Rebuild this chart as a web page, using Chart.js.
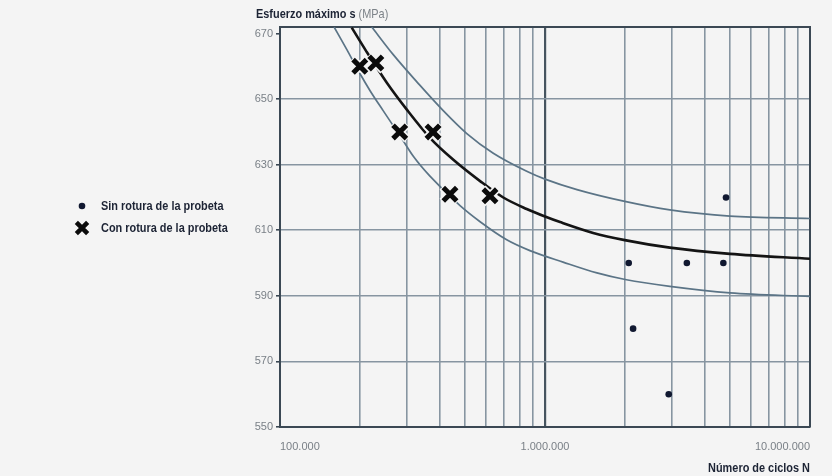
<!DOCTYPE html>
<html lang="es">
<head>
<meta charset="utf-8">
<title>Esfuerzo máximo vs número de ciclos</title>
<script src="https://cdn.jsdelivr.net/npm/chart.js@4.4.1/dist/chart.umd.min.js"></script>
<style>
  html, body { margin: 0; padding: 0; background: #f4f4f4; }
  #wrap { width: 832px; height: 476px; position: relative; }
</style>
</head>
<body>
<div id="wrap"><canvas id="snChart"></canvas></div>
<script>
// ensayos con rotura (cruces)
const brokenN = [200000, 230000, 283000, 378000, 438000, 620000];
const brokenS = [660, 661, 640, 640, 621, 620.5];
// ensayos sin rotura (puntos)
const runoutN = [2070000, 2150000, 2930000, 3430000, 4710000, 4820000];
const runoutS = [600, 580, 560, 600, 600, 620];

// curva media y bandas
const meanN = [186500, 212000, 253000, 301000, 368000, 451000, 569000, 696000, 853000, 1000000, 1140000, 1520000, 2000000, 2960000, 4990000, 10000000];
const meanS = [671.8, 664.5, 655, 646.8, 638.2, 631.5, 625, 620, 616.5, 614.2, 612.5, 609.2, 607, 604.7, 602.8, 601.3];
const upperN = [222000, 268000, 335000, 413000, 507000, 638000, 853000, 1000000, 1320000, 2000000, 2960000, 4990000, 10000000];
const upperS = [672, 663.5, 654.5, 646.5, 639.5, 633.5, 628, 625.6, 622.4, 618.8, 616.2, 614.3, 613.6];
const lowerN = [160000, 179000, 198000, 219000, 245000, 288000, 319000, 368000, 478000, 569000, 717000, 877000, 1170000, 1570000, 2030000, 2960000, 4990000, 10000000];
const lowerS = [672, 665, 658.5, 652.5, 646.5, 638, 632.5, 626.5, 617.5, 612.6, 607.1, 603.8, 600.3, 597, 594.9, 592.9, 590.9, 589.8];

// ejes
const xGridValues = [100000, 200000, 300000, 400000, 500000, 600000, 700000, 800000, 900000,
  1000000, 2000000, 3000000, 4000000, 5000000, 6000000, 7000000, 8000000, 9000000, 10000000];
const xLabelValues = [100000, 1000000, 10000000];
const xTickLabels = ['100.000', '1.000.000', '10.000.000'];
const yTickValues = [550, 570, 590, 610, 630, 650, 670];
const yTitle = ['Esfuerzo máximo s', '(MPa)'];
const xTitle = 'Número de ciclos N';
const legendLabels = ['Sin rotura de la probeta', 'Con rotura de la probeta'];

const FONT = "'Liberation Sans', Arial, sans-serif";
const SQUEEZE = 0.84;          // imita la tipografia estrecha del original
const BG = '#f4f4f4';
const GRID = '#8795a1';
const DARK = '#3b4854';
const INK = '#1c2334';
const TICK_INK = '#7a8087';

const pts = (xs, ys) => xs.map((x, i) => ({ x: x, y: ys[i] }));

const crossStyle = { pointStyle: 'crossRot', radius: 9.5, borderWidth: 5, color: '#0b0b0b' };
const dotStyle = { pointStyle: 'circle', radius: 3.3, color: '#101830' };

// marco superior/derecho del area de trazado
const framePlugin = {
  id: 'frame',
  beforeDatasetsDraw(chart) {
    const a = chart.chartArea, ctx = chart.ctx;
    ctx.save();
    ctx.strokeStyle = DARK;
    ctx.lineWidth = 2;
    ctx.beginPath();
    ctx.moveTo(a.left, a.top);
    ctx.lineTo(a.right, a.top);
    ctx.lineTo(a.right, a.bottom);
    ctx.stroke();
    ctx.restore();
  }
};

function narrowText(ctx, text, x, y, align) {
  ctx.save();
  ctx.translate(x, y);
  ctx.scale(SQUEEZE, 1);
  ctx.textAlign = align || 'left';
  ctx.fillText(text, 0, 0);
  const w = ctx.measureText(text).width * SQUEEZE;
  ctx.restore();
  return w;
}

// titulos y leyenda
const textPlugin = {
  id: 'texts',
  afterDraw(chart) {
    const ctx = chart.ctx, a = chart.chartArea;
    ctx.save();
    ctx.textBaseline = 'middle';
    ctx.font = 'bold 13px ' + FONT;
    ctx.fillStyle = INK;
    const w = narrowText(ctx, yTitle[0] + ' ', 256, 14);
    ctx.font = '13px ' + FONT;
    ctx.fillStyle = '#7d8389';
    narrowText(ctx, yTitle[1], 256 + w, 14);

    ctx.font = 'bold 13px ' + FONT;
    ctx.fillStyle = INK;
    narrowText(ctx, xTitle, a.right, 468, 'right');

    // leyenda
    ctx.fillStyle = dotStyle.color;
    Chart.helpers.drawPoint(ctx, { pointStyle: 'circle', radius: dotStyle.radius, borderWidth: 0 }, 82, 206);
    ctx.strokeStyle = crossStyle.color;
    ctx.lineWidth = 4.5;
    Chart.helpers.drawPoint(ctx, { pointStyle: 'crossRot', radius: 8, borderWidth: 4.5 }, 82, 228);
    ctx.font = 'bold 13px ' + FONT;
    ctx.fillStyle = INK;
    narrowText(ctx, legendLabels[0], 101, 206);
    narrowText(ctx, legendLabels[1], 101, 228);
    ctx.restore();
  }
};

new Chart(document.getElementById('snChart'), {
  type: 'scatter',
  data: {
    datasets: [
      {
        label: legendLabels[1],
        data: pts(brokenN, brokenS),
        pointStyle: crossStyle.pointStyle,
        pointRadius: crossStyle.radius,
        pointBorderWidth: crossStyle.borderWidth,
        pointBorderColor: crossStyle.color,
        pointBackgroundColor: crossStyle.color,
        order: 0
      },
      {
        label: 'halo',
        data: pts(brokenN, brokenS),
        pointStyle: 'crossRot',
        pointRadius: 10.5,
        pointBorderWidth: 8.5,
        pointBorderColor: BG,
        order: 1
      },
      {
        label: legendLabels[0],
        data: pts(runoutN, runoutS),
        pointStyle: dotStyle.pointStyle,
        pointRadius: dotStyle.radius,
        pointBorderWidth: 0,
        pointBackgroundColor: dotStyle.color,
        order: 0
      },
      {
        label: 'media',
        data: pts(meanN, meanS),
        showLine: true,
        borderColor: '#141414',
        borderWidth: 2.6,
        pointRadius: 0,
        cubicInterpolationMode: 'monotone',
        order: 2
      },
      {
        label: 'superior',
        data: pts(upperN, upperS),
        showLine: true,
        borderColor: '#5b7486',
        borderWidth: 1.7,
        pointRadius: 0,
        cubicInterpolationMode: 'monotone',
        order: 3
      },
      {
        label: 'inferior',
        data: pts(lowerN, lowerS),
        showLine: true,
        borderColor: '#5b7486',
        borderWidth: 1.7,
        pointRadius: 0,
        cubicInterpolationMode: 'monotone',
        order: 3
      }
    ]
  },
  options: {
    responsive: true,
    maintainAspectRatio: false,
    animation: false,
    layout: { padding: { top: 27, left: 240, right: 22, bottom: 0 } },
    plugins: {
      legend: { display: false },
      tooltip: { enabled: false }
    },
    scales: {
      x: {
        type: 'logarithmic',
        min: 100000,
        max: 10000000,
        afterBuildTicks: (s) => { s.ticks = xGridValues.map(v => ({ value: v })); },
        afterFit: (s) => { s.height = 49; },
        ticks: {
          autoSkip: false,
          maxRotation: 0,
          align: 'inner',
          padding: 13,
          color: TICK_INK,
          font: { family: FONT, size: 11 },
          callback: (v) => {
            const i = xLabelValues.indexOf(v);
            return i >= 0 ? xTickLabels[i] : '';
          }
        },
        grid: {
          drawTicks: false,
          color: (c) => (c.tick && c.tick.value === 1000000) ? '#46545f' : GRID,
          lineWidth: (c) => (c.tick && c.tick.value === 1000000) ? 2.2 : 1.6
        },
        border: { color: DARK, width: 2 }
      },
      y: {
        min: 550,
        max: 672,
        afterBuildTicks: (s) => { s.ticks = yTickValues.map(v => ({ value: v })); },
        afterFit: (s) => { s.width = 40; },
        ticks: {
          padding: 3,
          color: TICK_INK,
          font: { family: FONT, size: 11 },
          callback: (v) => String(v)
        },
        grid: {
          tickLength: 4,
          tickColor: DARK,
          color: (c) => (c.tick && c.tick.value === 670) ? 'rgba(0,0,0,0)' : GRID,
          lineWidth: 1.6
        },
        border: { color: DARK, width: 2 }
      }
    }
  },
  plugins: [framePlugin, textPlugin]
});
</script>
</body>
</html>
